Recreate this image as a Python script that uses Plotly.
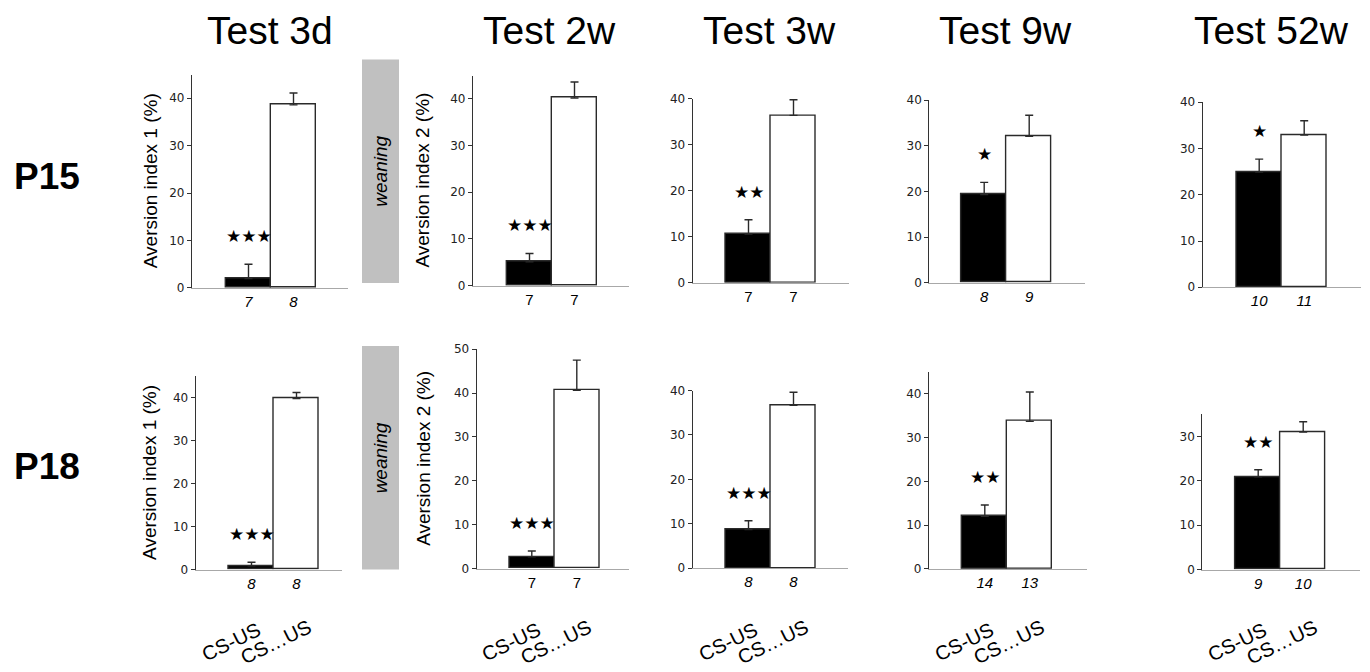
import plotly.graph_objects as go

# the photographed page is 688 css px tall, shown at 672; figure sits at (8, 16)
SHOT_H, VIEW_H = 672, 688
OFF_X, OFF_Y = 8, 16
W, H = 1354, 664

tests = ["Test 3d", "Test 2w", "Test 3w", "Test 9w", "Test 52w"]
groups = ["P15", "P18"]
bar_names = ["CS-US", "CS…US"]

# mean aversion (%) and SEM, per test
p15_paired = [2.0, 5.1, 10.6, 19.3, 24.9]
p15_paired_err = [3.0, 1.8, 3.1, 2.7, 2.8]
p15_unpaired = [38.6, 40.2, 36.4, 32.1, 32.9]
p15_unpaired_err = [2.5, 3.4, 3.4, 4.6, 3.1]

p18_paired = [0.9, 2.7, 8.7, 12.0, 20.9]
p18_paired_err = [0.8, 1.3, 2.0, 2.6, 1.6]
p18_unpaired = [39.8, 40.6, 36.7, 33.7, 31.0]
p18_unpaired_err = [1.4, 6.9, 2.9, 6.7, 2.3]

# group sizes shown under the bars
p15_n = [(7, 8), (7, 7), (7, 7), (8, 9), (10, 11)]
p18_n = [(8, 8), (7, 7), (8, 8), (14, 13), (9, 10)]

# number of significance stars
p15_stars = [3, 3, 2, 1, 1]
p18_stars = [3, 3, 3, 2, 2]

ylabels = ["Aversion index 1 (%)", "Aversion index 2 (%)", None, None, None]

rows = [
    dict(paired=p15_paired, paired_err=p15_paired_err, unpaired=p15_unpaired,
         unpaired_err=p15_unpaired_err, n=p15_n, stars=p15_stars),
    dict(paired=p18_paired, paired_err=p18_paired_err, unpaired=p18_unpaired,
         unpaired_err=p18_unpaired_err, n=p18_n, stars=p18_stars),
]

# ---- layout, in picture pixels: x0, x1, y of zero, y of top, left of first bar, top value
panel_px = [
    [(192, 348, 288, 75, 226, 45), (473, 629, 285.7, 76, 507, 45), (692.7, 849.3, 282.7, 99.3, 726, 40),
     (929.3, 1085, 282.7, 100.7, 961.7, 40), (1202.7, 1361, 287.3, 102.7, 1236.7, 40)],
    [(195.7, 342.3, 569, 376, 229, 45), (476.7, 629.3, 568, 349, 509.3, 50), (692.7, 848.3, 567.7, 390.3, 726, 40),
     (929, 1087.3, 568.3, 371.7, 962.3, 45), (1202.3, 1360, 569, 414, 1235.7, 35)],
]
italic_n = [[True, False, False, True, True], [True, False, True, True, True]]
ylabel_x = [[150, 423], [150, 424]]
title_x = [270, 549, 769, 1005, 1271]
group_y = [177, 466]
weaning_box = [(362, 399, 60, 283), (362, 399, 346, 569)]
BW = 45.0  # bar width in px


def px(x):
    return min(1.0, max(0.0, (x - OFF_X) / W))


def py(y):
    return min(1.0, max(0.0, 1 - (y * VIEW_H / SHOT_H - OFF_Y) / H))


fig = go.Figure()
annotations = []
shapes = []
layout = {}

for r, row in enumerate(rows):
    for c in range(len(tests)):
        k = r * len(tests) + c + 1
        xa = "x" if k == 1 else f"x{k}"
        ya = "y" if k == 1 else f"y{k}"
        x0, x1, yz, yt, bl, ymax = panel_px[r][c]
        lo = -(bl - x0) / BW - 0.5
        hi = lo + (x1 - x0) / BW

        vals = [row["paired"][c], row["unpaired"][c]]
        errs = [row["paired_err"][c], row["unpaired_err"][c]]
        fig.add_trace(go.Bar(
            x=[0, 1], y=vals, width=1, xaxis=xa, yaxis=ya, showlegend=False,
            marker=dict(color=["black", "white"], line=dict(color="#2a2a2a", width=1.4)),
            error_y=dict(type="data", symmetric=False, array=errs, arrayminus=[0, 0],
                         color="#2a2a2a", thickness=1.4, width=4),
        ))

        layout[f"xaxis{'' if k == 1 else k}"] = dict(
            domain=[px(x0), px(x1)], range=[lo, hi], anchor=ya,
            tickvals=[0, 1], ticktext=[str(v) for v in row["n"][c]],
            tickfont=dict(family="Liberation Sans", size=15, color="black",
                          style="italic" if italic_n[r][c] else "normal"),
            ticks="", showline=True, linecolor="#a8a8a8", linewidth=1.3,
            showgrid=False, zeroline=False,
        )
        layout[f"yaxis{'' if k == 1 else k}"] = dict(
            domain=[py(yz), py(yt)], range=[0, ymax], anchor=xa,
            dtick=10, ticks="outside", ticklen=4, tickcolor="#333", tickwidth=1,
            showline=True, linecolor="#333", linewidth=1.2,
            showgrid=False, zeroline=False,
            tickfont=dict(family="DejaVu Sans", size=12, color="#222"),
        )

        # significance stars above the CS-US bar
        annotations.append(dict(
            xref=xa, yref=ya, x=0, y=vals[0] + errs[0], yshift=28,
            text="★" * row["stars"][c], showarrow=False, yanchor="middle",
            font=dict(family="DejaVu Sans", size=17, color="black"),
        ))

        if ylabels[c]:
            annotations.append(dict(
                xref="paper", yref="paper", x=px(ylabel_x[r][c]), y=py((yz + yt) / 2),
                text=ylabels[c], textangle=-90, showarrow=False,
                xanchor="center", yanchor="middle",
                font=dict(family="Liberation Sans", size=19, color="black"),
            ))

        # condition names under the bottom row
        if r == len(rows) - 1:
            for j, name in enumerate(bar_names):
                annotations.append(dict(
                    xref=xa, yref="paper", x=j, y=py(641), xshift=-21,
                    text=name, textangle=-26, showarrow=False,
                    xanchor="center", yanchor="middle",
                    font=dict(family="Liberation Sans", size=20, color="black"),
                ))

# column titles
for c, t in enumerate(tests):
    annotations.append(dict(
        xref="paper", yref="paper", x=px(title_x[c]), y=py(31), text=t,
        showarrow=False, xanchor="center", yanchor="middle",
        font=dict(family="Liberation Sans", size=39, color="black"),
    ))

# row labels
for r, g in enumerate(groups):
    annotations.append(dict(
        xref="paper", yref="paper", x=px(12), y=py(group_y[r]), text=f"<b>{g}</b>",
        showarrow=False, xanchor="left", yanchor="middle",
        font=dict(family="Liberation Sans", size=37, color="black"),
    ))

# weaning boxes
for (bx0, bx1, by0, by1) in weaning_box:
    shapes.append(dict(type="rect", xref="paper", yref="paper",
                       x0=px(bx0), x1=px(bx1), y0=py(by1), y1=py(by0),
                       fillcolor="#c0c0c0", line=dict(width=0), layer="below"))
    annotations.append(dict(
        xref="paper", yref="paper", x=px((bx0 + bx1) / 2), y=py((by0 + by1) / 2),
        text="<i>weaning</i>", textangle=-90, showarrow=False,
        xanchor="center", yanchor="middle",
        font=dict(family="Liberation Sans", size=19, color="black"),
    ))

fig.update_layout(
    width=W, height=H, margin=dict(l=0, r=0, t=0, b=0),
    paper_bgcolor="white", plot_bgcolor="white",
    annotations=annotations, shapes=shapes, bargap=0,
    **layout,
)

fig.write_html("out.html")
